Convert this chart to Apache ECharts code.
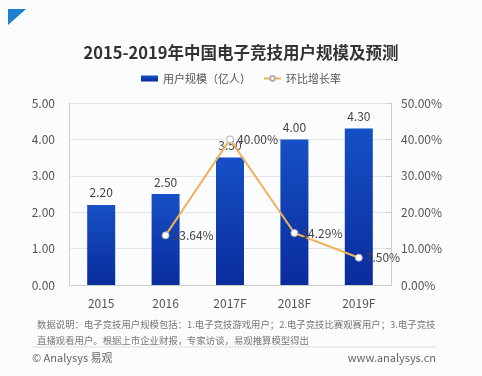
<!DOCTYPE html>
<html>
<head>
<meta charset="utf-8">
<script src="https://cdn.jsdelivr.net/npm/echarts@6/dist/echarts.min.js"></script>
<style>
  html, body { margin: 0; padding: 0; background: #fff; }
  #chart { width: 482px; height: 376px; }
</style>
</head>
<body>
<div id="chart"></div>
<script>
// 年份
var years = ['2015', '2016', '2017F', '2018F', '2019F']
// 用户规模（亿人）
var users = [2.20, 2.50, 3.50, 4.00, 4.30]
// 环比增长率 (%)
var growth = [null, 13.64, 40.00, 14.29, 7.50]

var font = '"Noto Sans CJK SC", "Noto Sans", sans-serif'

var chart = echarts.init(document.getElementById('chart'))
chart.setOption({
  backgroundColor: '#fbfcfd',
  textStyle: { fontFamily: font },
  title: {
    text: '2015-2019年中国电子竞技用户规模及预测',
    left: 'center',
    top: 39,
    textStyle: { fontSize: 16.5, fontWeight: 'bold', color: '#333', fontFamily: font }
  },
  legend: {
    top: 68,
    left: 'center',
    itemGap: 12,
    itemWidth: 17,
    itemHeight: 6,
    textStyle: { fontSize: 11, color: '#555' },
    data: [
      { name: '用户规模（亿人）', icon: 'rect' },
      { name: '环比增长率' }
    ]
  },
  grid: { left: 69, right: 91, top: 103, bottom: 91 },
  xAxis: {
    type: 'category',
    data: years,
    axisLine: { lineStyle: { color: '#ccc' } },
    axisTick: { show: false },
    axisLabel: { color: '#555', fontSize: 12, margin: 12 }
  },
  yAxis: [
    {
      type: 'value',
      min: 0,
      max: 5,
      interval: 1,
      axisLine: { show: true, lineStyle: { color: '#ccc' } },
      axisLabel: { color: '#555', fontSize: 12, margin: 14, formatter: function (v) { return v.toFixed(2) } },
      splitLine: { lineStyle: { color: '#e4e4e4' } }
    },
    {
      type: 'value',
      min: 0,
      max: 50,
      interval: 10,
      axisLine: { show: true, lineStyle: { color: '#ccc' } },
      axisTick: { show: true, inside: true, lineStyle: { color: '#ccc' } },
      axisLabel: { color: '#555', fontSize: 12, margin: 10, formatter: function (v) { return v.toFixed(2) + '%' } },
      splitLine: { show: false }
    }
  ],
  series: [
    {
      name: '用户规模（亿人）',
      type: 'bar',
      data: users,
      barWidth: 28,
      itemStyle: {
        color: new echarts.graphic.LinearGradient(0, 0, 0, 1, [
          { offset: 0, color: '#1650c6' },
          { offset: 1, color: '#0a2c9c' }
        ])
      },
      label: {
        show: true,
        position: 'top',
        distance: 6,
        color: '#444',
        fontSize: 12,
        formatter: function (p) { return p.value.toFixed(2) }
      }
    },
    {
      name: '环比增长率',
      type: 'line',
      yAxisIndex: 1,
      data: growth,
      symbol: 'circle',
      symbolSize: 7,
      lineStyle: { color: '#f0b25a', width: 2 },
      itemStyle: { color: '#fff', borderColor: '#b0b0b0', borderWidth: 1 },
      label: {
        show: true,
        position: 'right',
        distance: 3,
        color: '#444',
        fontSize: 12,
        formatter: function (p) { return p.value.toFixed(2) + '%' }
      }
    }
  ],
  graphic: [
    {
      type: 'polygon',
      shape: { points: [[8, 9], [26, 9], [8, 25]] },
      style: { fill: '#1c7fd0' }
    },
    {
      type: 'text',
      left: 37,
      top: 316,
      style: {
        text: '数据说明：电子竞技用户规模包括：1.电子竞技游戏用户；2.电子竞技比赛观赛用户；3.电子竞技\n直播观看用户。根据上市企业财报，专家访谈，易观推算模型得出',
        fill: '#777',
        font: '9.4px ' + font,
        lineHeight: 16
      }
    },
    {
      type: 'line',
      shape: { x1: 32, y1: 347, x2: 436, y2: 347 },
      style: { stroke: '#ddd', lineWidth: 1 }
    },
    {
      type: 'text',
      left: 32,
      top: 352,
      style: { text: '© Analysys 易观', fill: '#666', font: '11px ' + font }
    },
    {
      type: 'text',
      right: 46,
      top: 352,
      style: { text: 'www.analysys.cn', fill: '#666', font: '11px ' + font }
    }
  ]
})
</script>
</body>
</html>
